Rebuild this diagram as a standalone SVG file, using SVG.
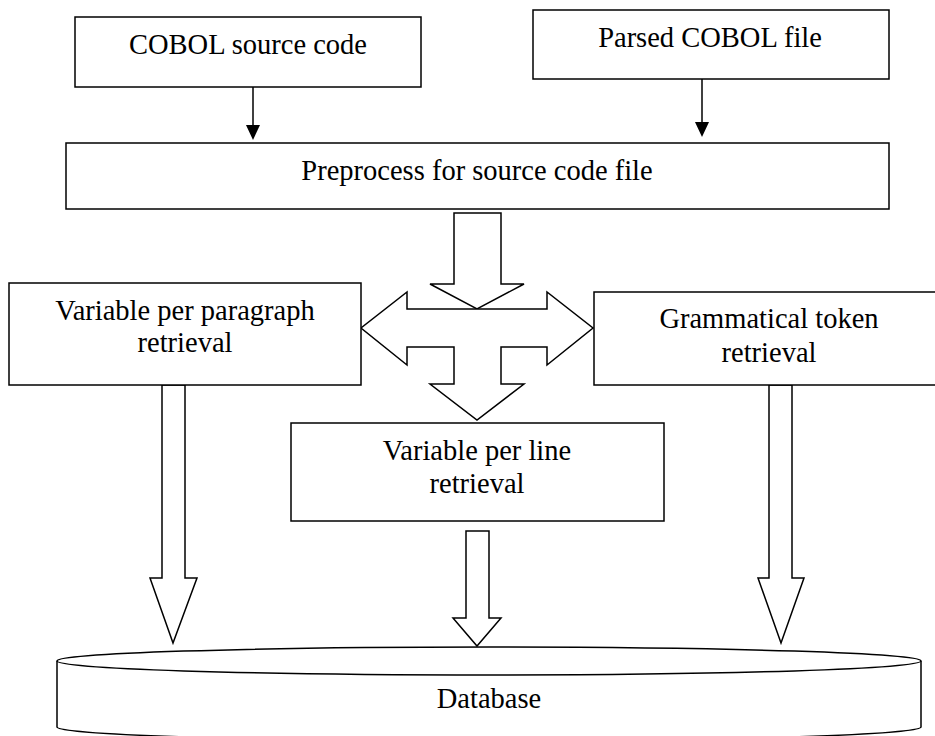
<svg xmlns="http://www.w3.org/2000/svg" width="935" height="736" viewBox="0 0 935 736">
<style>
.box{fill:#fff;stroke:#000;stroke-width:1.5}
.t{font-family:"Liberation Serif","Times New Roman",serif;font-size:28.5px;fill:#000;text-anchor:middle}
.ln{stroke:#000;stroke-width:1.5;fill:none}
.hd{fill:#000;stroke:none}
.ba{fill:#fff;stroke:#000;stroke-width:1.5;stroke-linejoin:miter}
</style>
<rect width="935" height="736" fill="#fff"/>
<g id="connectors">
  <line class="ln" x1="253" y1="87" x2="253" y2="126"/>
  <polygon class="hd" points="246,125 260,125 253,140"/>
  <line class="ln" x1="702" y1="79" x2="702" y2="123"/>
  <polygon class="hd" points="695,122 709,122 702,137"/>
  <polygon class="ba" points="454,213 501,213 501,284 524,284 477,309 430,284 454,284"/>
  <polygon class="ba" points="407,309 547,309 547,292 593,328 547,365 547,347 501,347 501,384 524,384 477,420 430,384 454,384 454,347 407,347 407,365 361,328 407,292"/>
  <polygon class="ba" points="162,385 185,385 185,578 197,578 173,643 150,578 162,578"/>
  <polygon class="ba" points="769,385 792,385 792,578 804,578 781,643 758,578 769,578"/>
  <polygon class="ba" points="466,531 489,531 489,618 501,618 477,646 453,618 466,618"/>
</g>
<g id="cobol-source">
  <rect class="box" x="75" y="17" width="346" height="70"/>
  <text class="t" x="248" y="54">COBOL source code</text>
</g>
<g id="parsed-cobol">
  <rect class="box" x="533" y="10" width="356" height="69"/>
  <text class="t" x="710" y="47">Parsed COBOL file</text>
</g>
<g id="preprocess">
  <rect class="box" x="66" y="143" width="823" height="66"/>
  <text class="t" x="477" y="180">Preprocess for source code file</text>
</g>
<g id="var-paragraph">
  <rect class="box" x="9" y="283" width="352" height="102"/>
  <text class="t" x="185" y="320">Variable per paragraph</text>
  <text class="t" x="185" y="352">retrieval</text>
</g>
<g id="grammatical">
  <rect class="box" x="594" y="292" width="350" height="93"/>
  <text class="t" x="769" y="328">Grammatical token</text>
  <text class="t" x="769" y="362">retrieval</text>
</g>
<g id="var-line">
  <rect class="box" x="291" y="423" width="373" height="98"/>
  <text class="t" x="477" y="460">Variable per line</text>
  <text class="t" x="477" y="493">retrieval</text>
</g>
<g id="database">
  <path class="box" d="M57,661 L57,727 A432,14 0 0 0 921,727 L921,661"/>
  <ellipse class="box" cx="489" cy="661" rx="432" ry="14"/>
  <text class="t" x="489" y="708">Database</text>
</g>
</svg>
